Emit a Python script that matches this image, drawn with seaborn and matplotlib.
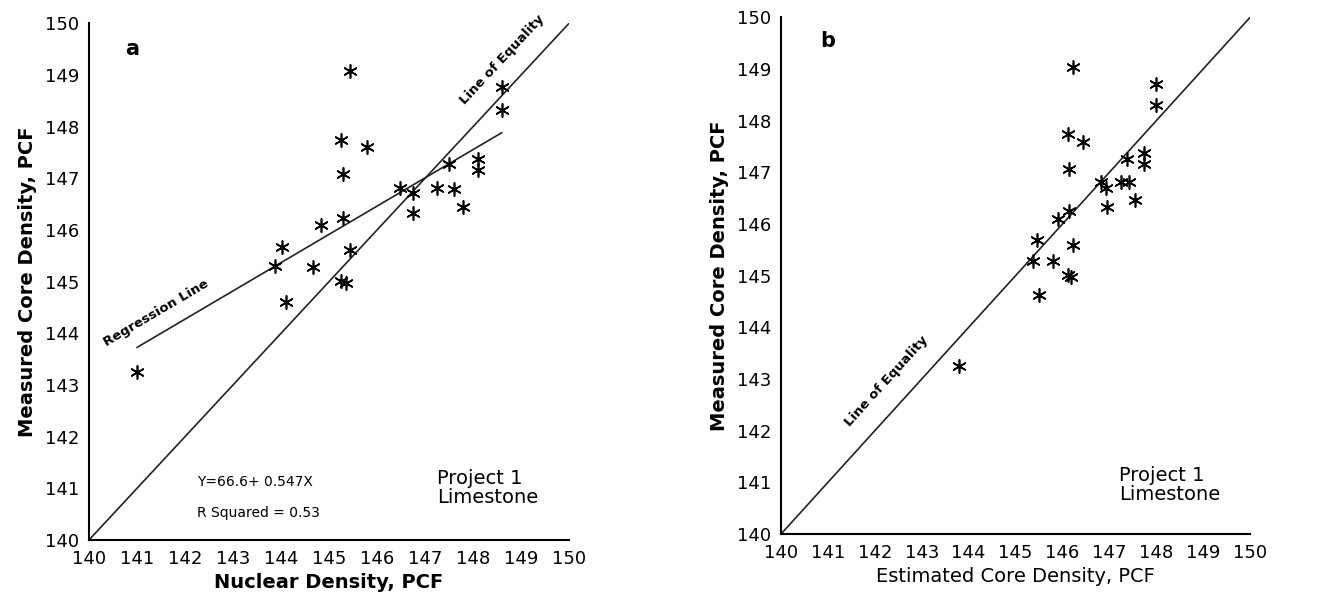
import numpy as np
import pandas as pd
import matplotlib
matplotlib.use("Agg")
import matplotlib.pyplot as plt
import seaborn as sns

# ---- data ----
nuclear_a = [141.0, 144.1, 145.44, 145.24, 145.80, 145.29, 148.60, 148.60, 147.49, 148.1, 148.1,
             146.48, 146.74, 147.24, 147.6, 147.8, 146.74, 145.29, 144.83, 144.02, 145.44,
             143.87, 144.67, 145.26, 145.35]
measured_a = [143.25, 144.6, 149.07, 147.75, 147.60, 147.09, 148.76, 148.32, 147.27, 147.38, 147.17,
              146.81, 146.72, 146.81, 146.80, 146.45, 146.32, 146.24, 146.09, 145.67, 145.62,
              145.31, 145.29, 145.02, 144.98]

estimated_b = [146.23, 148.0, 148.0, 146.13, 146.43, 146.15, 147.37, 147.73, 147.73, 146.82, 146.94,
               147.24, 147.41, 147.55, 146.96, 146.15, 145.90, 145.45, 146.23, 145.37, 145.81,
               146.13, 146.18, 145.51, 143.79]
measured_b = [149.05, 148.71, 148.30, 147.74, 147.58, 147.07, 147.26, 147.37, 147.16, 146.82, 146.69,
              146.82, 146.82, 146.47, 146.33, 146.25, 146.09, 145.69, 145.60, 145.29, 145.29,
              145.01, 144.97, 144.63, 143.25]

reg_intercept = 66.6
reg_slope = 0.547
reg_x_range = [141.0, 148.6]
equality_range = [140, 150]
ticks = list(range(140, 151))

sns.set_theme(style="white")
plt.rcParams['font.family'] = ['DejaVu Sans']
plt.rcParams['text.color'] = 'black'
plt.rcParams['axes.labelcolor'] = 'black'

fig = plt.figure(figsize=(13.36, 5.99), dpi=100)
ax_a = fig.add_axes([0.0666, 0.0985, 0.3593, 0.8625])
ax_b = fig.add_axes([0.5846, 0.1085, 0.3510, 0.8623])

marker = (6, 2, 0)

def style_axes(ax):
    ax.set_xlim(140, 150)
    ax.set_ylim(140, 150)
    ax.set_xticks(ticks)
    ax.set_yticks(ticks)
    ax.set_xticklabels([str(t) for t in ticks])
    ax.set_yticklabels([str(t) for t in ticks])
    for s in ['top', 'right']:
        ax.spines[s].set_visible(False)
    for s in ['left', 'bottom']:
        ax.spines[s].set_color('black')
        ax.spines[s].set_linewidth(1.5)
    ax.tick_params(axis='both', direction='inout', length=10, width=1.3,
                   labelsize=13, colors='black', labelcolor='black', pad=2)
    ax.grid(False)

# Panel a
df_a = pd.DataFrame({'x': nuclear_a, 'y': measured_a})
sns.scatterplot(data=df_a, x='x', y='y', ax=ax_a, marker=marker, s=90,
                color='black', linewidth=1.2, zorder=3)
eq = pd.DataFrame({'x': equality_range, 'y': equality_range})
sns.lineplot(data=eq, x='x', y='y', ax=ax_a, color='#222222', linewidth=1.2)
reg = pd.DataFrame({'x': reg_x_range,
                    'y': [reg_intercept + reg_slope * v for v in reg_x_range]})
sns.lineplot(data=reg, x='x', y='y', ax=ax_a, color='#222222', linewidth=1.2)
style_axes(ax_a)
ax_a.set_xlabel('Nuclear Density, PCF', fontsize=14, fontweight='bold', labelpad=4)
ax_a.set_ylabel('Measured Core Density, PCF', fontsize=14, fontweight='bold', labelpad=6)
ax_a.text(140.9, 149.5, 'a', fontsize=15, fontweight='bold', ha='center', va='center')
ax_a.text(148.6, 149.3, 'Line of Equality', fontsize=9.5, fontweight='bold',
          rotation=47, ha='center', va='center', rotation_mode='anchor')
ax_a.text(141.4, 144.4, 'Regression Line', fontsize=9.5, fontweight='bold',
          rotation=30.5, ha='center', va='center', rotation_mode='anchor')
ax_a.text(142.25, 141.13, 'Y=66.6+ 0.547X', fontsize=10, ha='left', va='center')
ax_a.text(142.25, 140.52, 'R Squared = 0.53', fontsize=10, ha='left', va='center')
ax_a.text(147.25, 141.0, 'Project 1\nLimestone', fontsize=14, ha='left', va='center',
          linespacing=1.0)

# Panel b
df_b = pd.DataFrame({'x': estimated_b, 'y': measured_b})
sns.scatterplot(data=df_b, x='x', y='y', ax=ax_b, marker=marker, s=90,
                color='black', linewidth=1.2, zorder=3)
sns.lineplot(data=eq, x='x', y='y', ax=ax_b, color='#222222', linewidth=1.2)
style_axes(ax_b)
ax_b.set_xlabel('Estimated Core Density, PCF', fontsize=14, labelpad=4)
ax_b.set_ylabel('Measured Core Density, PCF', fontsize=14, fontweight='bold', labelpad=6)
ax_b.text(141.0, 149.55, 'b', fontsize=15, fontweight='bold', ha='center', va='center')
ax_b.text(142.25, 142.95, 'Line of Equality', fontsize=9.5, fontweight='bold',
          rotation=47.8, ha='center', va='center', rotation_mode='anchor')
ax_b.text(147.2, 140.95, 'Project 1\nLimestone', fontsize=14, ha='left', va='center',
          linespacing=1.0)

fig.savefig('out.png', dpi=100, facecolor='white')
